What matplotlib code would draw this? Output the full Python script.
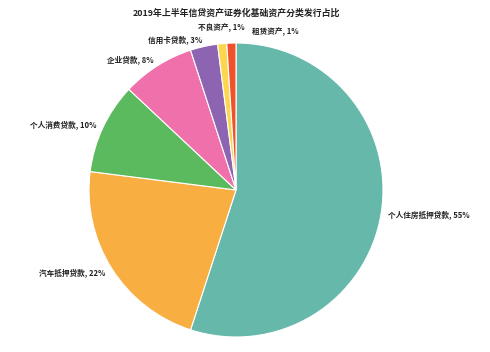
import matplotlib
matplotlib.use("Agg")
import matplotlib.pyplot as plt

plt.rcParams["font.family"] = ["Noto Sans CJK SC", "DejaVu Sans"]

TITLE = "2019年上半年信贷资产证券化基础资产分类发行占比"
CATEGORIES = ["个人住房抵押贷款", "汽车抵押贷款", "个人消费贷款", "企业贷款",
              "信用卡贷款", "不良资产", "租赁资产"]
SHARES = [55, 22, 10, 8, 3, 1, 1]
COLORS = ["#66b8aa", "#f9ae42", "#5bb95e", "#ef70ab", "#8c64b1", "#fbd64e", "#ef522b"]

W, H = 490, 352
CX, CY, R = 236, 190, 147  # pie centre / radius in pixels

fig = plt.figure(figsize=(W / 100, H / 100), dpi=100)
ax = fig.add_axes([0, 0, 1, 1])

labels = [f"{c}, {v}%" for c, v in zip(CATEGORIES, SHARES)]
wedges, texts = ax.pie(
    SHARES, labels=labels, colors=COLORS, startangle=90, counterclock=False,
    labeldistance=1.05,
    wedgeprops=dict(edgecolor="white", linewidth=0.8),
    textprops=dict(fontsize=5.5, fontweight="bold", color="#222222"),
)

# nudge the two tiny slices' labels apart, like the original
x, y = texts[5].get_position()
texts[5].set_position((x + 0.0, y + 0.06))
texts[5].set_ha("center")
x, y = texts[6].get_position()
texts[6].set_position((x + 0.14, y + 0.03))
texts[6].set_ha("left")

ax.set_xlim(-CX / R, (W - CX) / R)
ax.set_ylim(-(H - CY) / R, CY / R)
ax.set_aspect("equal")
ax.axis("off")

fig.text(236 / W, 1 - 13 / H, TITLE, ha="center", va="center",
         fontsize=6.4, fontweight="bold", color="#222222")

fig.savefig("out.png", dpi=100, facecolor="white")
